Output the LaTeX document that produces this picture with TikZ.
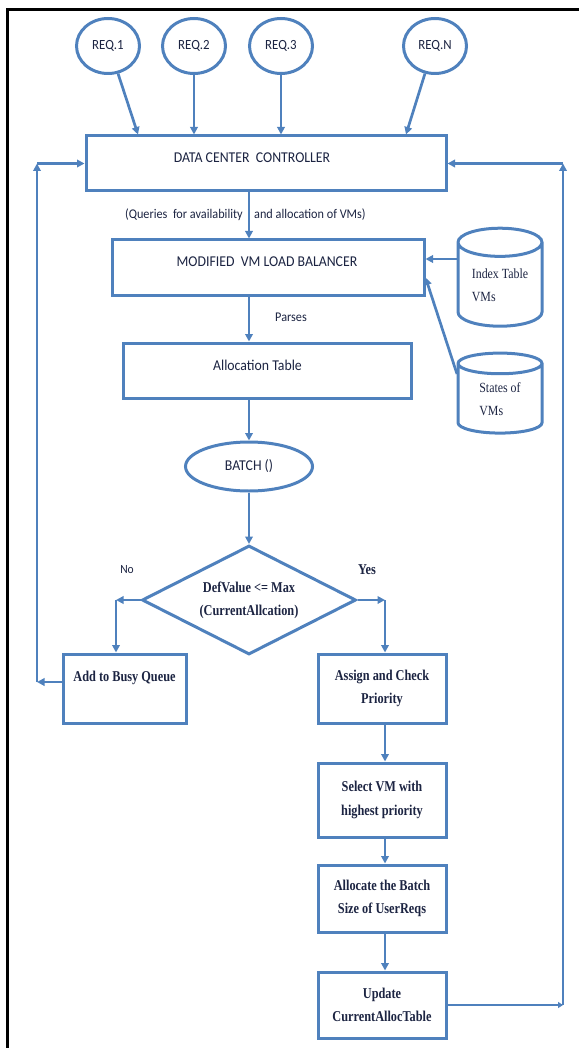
\documentclass[tikz,border=0pt]{standalone}
\usepackage{fontspec}
\usetikzlibrary{shapes.geometric,arrows.meta}
\newfontfamily\calfont[FakeStretch=0.92]{Carlito}
\newfontfamily\serfont[FakeStretch=0.85]{Liberation Serif}
\newfontfamily\serbold[FakeStretch=0.82]{Liberation Serif}
\definecolor{flowblue}{RGB}{79,129,189}
\definecolor{flowtext}{RGB}{28,36,66}
\begin{document}
\begin{tikzpicture}[x=1pt,y=-1pt,
        every node/.style={text=flowtext,inner sep=0pt},
        box/.style={draw=flowblue,line width=3pt,rectangle,fill=white},
        calbox/.style={box,font=\calfont\fontsize{15}{17}\selectfont},
        serbox/.style={box,align=center,minimum width=128pt,font=\serbold\bfseries\fontsize{15}{23.5}\selectfont},
        req/.style={draw=flowblue,line width=3pt,ellipse,minimum width=63pt,minimum height=55pt,font=\calfont\fontsize{14}{16}\selectfont},
        cyl/.style={draw=flowblue,line width=3pt,cylinder,shape border rotate=90,aspect=0.5,minimum width=84pt,align=left,font=\serfont\fontsize{14}{23}\selectfont},
        small/.style={font=\calfont\fontsize{13.3}{15}\selectfont},
        ln/.style={draw=flowblue,line width=2.7pt},
        arr/.style={ln,-{Triangle[length=7.5pt,width=7.5pt]}}]
    \useasboundingbox (0,0) rectangle (579,1048);
    \draw[line width=3pt] (7,1048) -- (7,10) -- (579,10);

    \foreach \n/\x in {1/108,2/194,3/281,N/435}
        \node[req] (r\n) at (\x,46) {REQ.\n};

    \node[calbox,minimum width=360pt,minimum height=55pt,
        label={[name=dcctxt,xshift=-14pt,yshift=6pt,font=\calfont\fontsize{15}{17}\selectfont]center:DATA CENTER\ \ CONTROLLER}] (dcc) at (266,163.5) {};
    \node[calbox,minimum width=312pt,minimum height=55pt,
        label={[name=mvlbtxt,xshift=-1pt,yshift=6pt,font=\calfont\fontsize{15}{17}\selectfont]center:MODIFIED\ \ VM LOAD BALANCER}] (mvlb) at (268,267.5) {};
    \node[calbox,minimum width=288pt,minimum height=55pt,
        label={[name=alloctxt,xshift=-10pt,yshift=5pt,font=\calfont\fontsize{15}{17}\selectfont]center:Allocation Table}] (alloc) at (267.5,370.5) {};
    \node[cyl,minimum height=98pt] (idx) at (500,285) {Index Table\\VMs};
    \node[cyl,minimum height=80pt] (sts) at (500,399) {States of\\VMs};
    \node[req,minimum width=127pt,minimum height=49pt,font=\calfont\fontsize{15}{17}\selectfont] (batch) at (249,466.5) {BATCH ()};
    \node[draw=flowblue,line width=3pt,diamond,aspect=1.96,minimum width=214pt,minimum height=109pt,align=center,
        font=\serbold\bfseries\fontsize{15}{23}\selectfont] (dia) at (249,600) {DefValue <= Max\\(CurrentAllcation)};
    \node[serbox,minimum width=123pt,minimum height=69pt] (busy) at (124.5,688.5) {Add to Busy Queue\\~};
    \node[serbox,minimum height=69pt] (assign) at (382,688.5) {Assign and Check\\Priority};
    \node[serbox,minimum height=74pt] (select) at (382,800) {Select VM with\\highest priority};
    \node[serbox,minimum height=67pt] (allocb) at (382,898.5) {Allocate the Batch\\Size of UserReqs};
    \node[serbox,minimum height=66pt] (update) at (382,1005) {Update\\CurrentAllocTable};

    \node[small,anchor=east] (qry1) at (243,215) {(Queries\ \ for availability};
    \node[small,anchor=west] (qry2) at (254,215) {and allocation of VMs)};
    \node[small] (parses) at (291,317) {Parses};
    \node[font=\calfont\fontsize{12.5}{14}\selectfont] (no) at (127,570) {No};
    \node[font=\serbold\bfseries\fontsize{15}{17}\selectfont] (yes) at (367,570) {Yes};

    \draw[arr] (r1.-70) -- ([xshift=-128pt]dcc.north);
    \draw[arr] (r2.south) -- (r2.south |- dcc.north);
    \draw[arr] (r3.south) -- (r3.south |- dcc.north);
    \draw[arr] (rN.-110) -- ([xshift=140pt]dcc.north);

    \draw[arr] (batch.north |- dcc.south) -- (batch.north |- mvlb.north);
    \draw[arr] (batch.north |- mvlb.south) -- (batch.north |- alloc.north);
    \draw[arr] (batch.north |- alloc.south) -- (batch.north);
    \draw[arr] (batch.south) -- (dia.north);

    \coordinate (idxa) at ([xshift=-42pt,yshift=26pt]idx.center);
    \coordinate (stsa) at ([xshift=-43pt,yshift=25pt]sts.center);
    \draw[arr] (idxa) -- (idxa -| mvlb.east);
    \draw[arr] (stsa) -- ([yshift=-10pt]mvlb.east);

    \coordinate (nocorner) at (116,600);
    \coordinate (yescorner) at (385,600);
    \draw[arr] (dia.west) -- (nocorner);
    \draw[arr] (nocorner) -- (nocorner |- busy.north);
    \draw[arr] (dia.east) -- (yescorner);
    \draw[arr] (yescorner) -- (yescorner |- assign.north);

    \draw[arr] ([xshift=3pt]assign.south) -- ([xshift=3pt]select.north);
    \draw[arr] ([xshift=3pt]select.south) -- ([xshift=3pt]allocb.north);
    \draw[arr] ([xshift=3pt]allocb.south) -- ([xshift=3pt]update.north);

    \coordinate (lbot) at (37,682);
    \coordinate (rbot) at (563,1005);
    \draw[arr] (lbot -| busy.west) -- (lbot);
    \draw[arr] (lbot) -- (lbot |- dcc.west);
    \draw[arr] (lbot |- dcc.west) -- (dcc.west);
    \draw[ln,-{Triangle[length=5pt,width=6pt]}] (update.east) -- (rbot);
    \draw[arr] (rbot) -- (rbot |- dcc.east);
    \draw[arr] (rbot |- dcc.east) -- (dcc.east);
\end{tikzpicture}
\end{document}
